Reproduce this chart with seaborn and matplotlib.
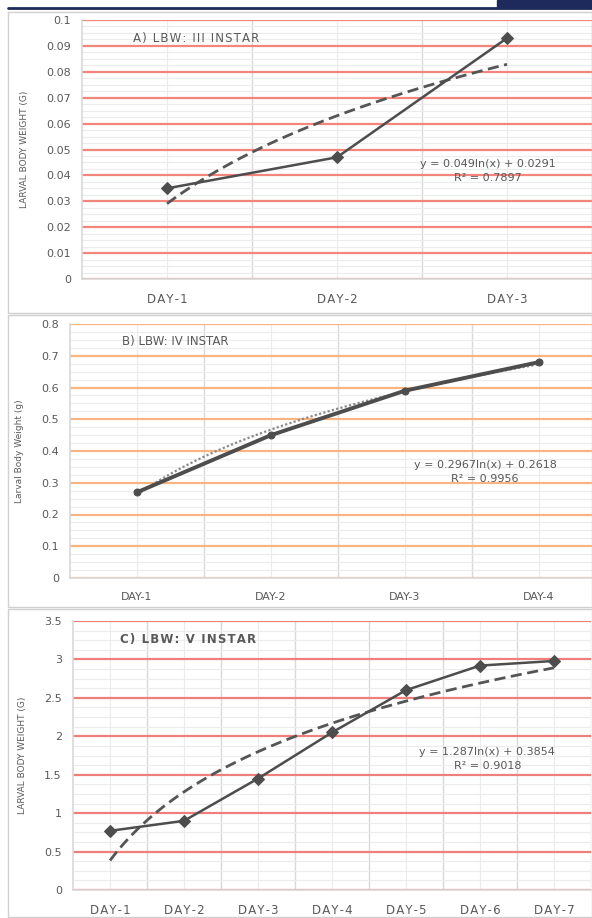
import numpy as np
import pandas as pd
import matplotlib.pyplot as plt
import matplotlib.patches as mpatches
from matplotlib.ticker import MultipleLocator, FixedLocator, FuncFormatter
import seaborn as sns

sns.set_theme(style="white")
plt.rcParams['font.family'] = ['DejaVu Sans']

# data
days_a = [1, 2, 3]
lbw_a = [0.035, 0.047, 0.093]
labels_a = ["DAY-1", "DAY-2", "DAY-3"]

days_b = [1, 2, 3, 4]
lbw_b = [0.27, 0.45, 0.59, 0.68]
labels_b = ["DAY-1", "DAY-2", "DAY-3", "DAY-4"]

days_c = [1, 2, 3, 4, 5, 6, 7]
lbw_c = [0.77, 0.90, 1.45, 2.05, 2.60, 2.92, 2.98]
labels_c = ["DAY-1", "DAY-2", "DAY-3", "DAY-4", "DAY-5", "DAY-6", "DAY-7"]

W, H = 592, 918
fig = plt.figure(figsize=(W / 100, H / 100), dpi=100)
fig.patch.set_facecolor("white")

def box(l, t, r, b):
    return [l / W, 1 - b / H, (r - l) / W, (b - t) / H]

def spaced(s):
    return "\u200a".join(list(s))

# header stripe
fig.add_artist(plt.Line2D([8 / W, 1], [1 - 8 / H, 1 - 8 / H], color="#1f2a5c", lw=2))
fig.add_artist(mpatches.Rectangle((497 / W, 1 - 8 / H), 95 / W, 8 / H, color="#1f2a5c"))
# panel frames
for t, b in [(12, 313), (315, 607), (609, 917)]:
    fig.add_artist(mpatches.Rectangle((8 / W, 1 - b / H), (W - 8) / W, (b - t) / H,
                                      fill=False, ec="#d0d0d0", lw=1))

gray = "#595959"
line_col = "#4d4d4d"

def panel(rect, days, vals, labels, xmax, ymax, ystep, nminor, major_col,
          title, eq, r2, ylab, eqpos, marker, ms, lw, trend_ls, trend_col, trend_lw,
          spaced_x, tfs, title_bold):
    ax = fig.add_axes(rect)
    ax.set_facecolor("white")
    df = pd.DataFrame({"day": days, "lbw": vals})
    sns.regplot(data=df, x="day", y="lbw", logx=True, scatter=False, ci=None, ax=ax,
                line_kws=dict(color=trend_col, ls=trend_ls, lw=trend_lw, zorder=3))
    sns.lineplot(data=df, x="day", y="lbw", marker=marker, markersize=ms, color=line_col,
                 lw=lw, markeredgecolor=line_col, ax=ax, zorder=4)
    ax.set_xlim(0.5, xmax)
    ax.set_ylim(0, ymax)
    ax.yaxis.set_major_locator(MultipleLocator(ystep))
    ax.yaxis.set_minor_locator(MultipleLocator(ystep / nminor))
    ax.yaxis.set_major_formatter(FuncFormatter(lambda v, p: "%g" % round(v, 6)))
    ax.xaxis.set_major_locator(FixedLocator(days))
    ax.xaxis.set_minor_locator(FixedLocator([d + 0.5 for d in days]))
    ax.set_xticklabels([spaced(l) if spaced_x else l for l in labels])
    ax.grid(which="minor", axis="y", color="#ececec", lw=0.8)
    ax.grid(which="major", axis="y", color=major_col, lw=1.6)
    ax.grid(which="minor", axis="x", color="#d9d9d9", lw=1.0)
    ax.grid(which="major", axis="x", color="#ececec", lw=0.8)
    ax.set_axisbelow(True)
    for s in ["top", "right"]:
        ax.spines[s].set_visible(False)
    for s in ["left", "bottom"]:
        ax.spines[s].set_color("#d9d9d9")
        ax.spines[s].set_linewidth(1.2)
        ax.spines[s].set_zorder(2.5)
    ax.tick_params(which="both", length=0, colors=gray, labelsize=8)
    ax.tick_params(axis="x", labelsize=tfs, pad=10)
    ax.tick_params(axis="y", pad=8)
    ax.set_xlabel("")
    ax.set_ylabel(ylab, color=gray, fontsize=6.5, labelpad=12)
    ax.text(0.1 if not title_bold else 0.09, 0.93, title, transform=ax.transAxes, color=gray,
            fontsize=8.5, fontweight="bold" if title_bold else "normal", va="center")
    ax.text(eqpos[0], eqpos[1], eq + "\n" + r2, transform=ax.transAxes, color=gray,
            fontsize=8, ha="center", va="center", linespacing=1.5)
    return ax

panel(box(82, 20, 592, 279), days_a, lbw_a, labels_a, 3.5, 0.1, 0.01, 4, "#f4857c",
      spaced("A) LBW: III INSTAR"), "y = 0.049ln(x) + 0.0291", "R² = 0.7897",
      "LARVAL BODY WEIGHT (G)", (0.795, 0.417), "D", 6, 1.8, (0, (4, 2)), "#555555", 2.0,
      True, 8.5, False)

panel(box(70, 324, 592, 578), days_b, lbw_b, labels_b, 0.5 + 522 / 134, 0.8, 0.1, 4, "#f8b57f",
      "B) LBW: IV INSTAR", "y = 0.2967ln(x) + 0.2618", "R² = 0.9956",
      "Larval Body Weight (g)", (0.795, 0.417), "o", 5, 2.8, (0, (1, 1)), "#8a8a8a", 1.6,
      False, 8, False)

panel(box(73, 621, 591, 890), days_c, lbw_c, labels_c, 7.5, 3.5, 0.5, 4, "#ee7f7a",
      spaced("C) LBW: V INSTAR"), "y = 1.287ln(x) + 0.3854", "R² = 0.9018",
      "LARVAL BODY WEIGHT (G)", (0.8, 0.487), "D", 6, 1.8, (0, (4, 2)), "#555555", 2.0,
      True, 8.5, True)

fig.savefig("out.png", dpi=100, facecolor="white")
